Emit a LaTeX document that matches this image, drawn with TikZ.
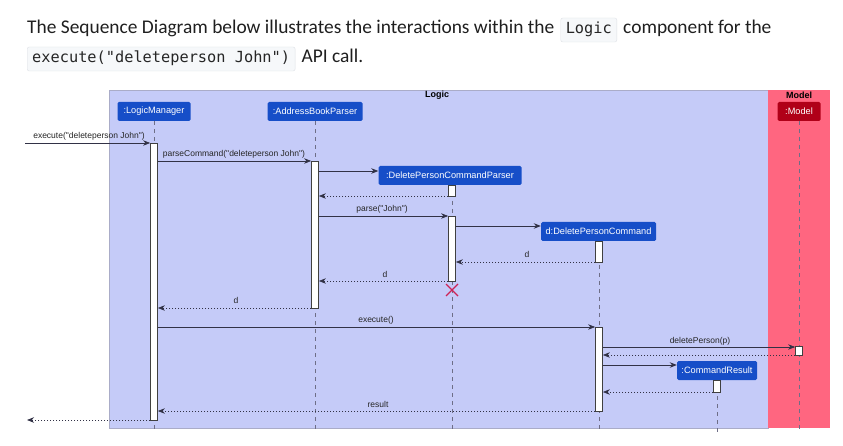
\documentclass[tikz,border=0pt]{standalone}
\usepackage{fontspec}
\setmainfont{Carlito}
\newfontfamily\diag{Liberation Sans}
\setmonofont{DejaVu Sans Mono}
\usetikzlibrary{arrows.meta}
\definecolor{logicbg}{RGB}{197,203,248}
\definecolor{modelbg}{RGB}{255,102,128}
\definecolor{partblue}{RGB}{22,78,200}
\definecolor{partred}{RGB}{176,0,24}
\definecolor{codebg}{RGB}{246,248,250}
\definecolor{codeborder}{RGB}{222,225,230}
\definecolor{lifegray}{RGB}{110,110,135}
\definecolor{msgcol}{RGB}{50,50,70}
\definecolor{xred}{RGB}{205,35,85}
\definecolor{boxborder}{RGB}{170,172,200}
\begin{document}
\begin{tikzpicture}[x=1pt,y=-1pt,
  body/.style={font=\fontsize{19.4}{23}\selectfont, inner sep=0pt, text=black!88},
  code/.style={font=\ttfamily\fontsize{15.3}{18}\selectfont, fill=codebg, draw=codeborder, rounded corners=2pt, inner xsep=5pt, inner ysep=2pt, text height=14pt, text depth=6pt, text=black!85},
  part/.style={fill=partblue, text=white, rounded corners=1.5pt, minimum height=19pt, inner sep=0pt, font=\diag\fontsize{9.2}{11}\selectfont},
  grp/.style={font=\diag\bfseries\fontsize{9}{10}\selectfont, inner sep=0pt},
  life/.style={draw=lifegray, line width=0.6pt, dash pattern=on 4pt off 4pt},
  act/.style={draw=black!75, fill=white, line width=0.7pt, minimum width=7pt, inner sep=0pt},
  msg/.style={draw=msgcol, line width=0.8pt, -{Stealth[length=7pt,width=5.5pt,inset=2.2pt]}},
  ret/.style={msg, dash pattern=on 1.5pt off 1.5pt},
  lbl/.style={font=\diag\fontsize{8.5}{10}\selectfont, inner sep=0pt, anchor=base, text=black!85}
]
\useasboundingbox (0,0) rectangle (843,446);
\fill[white] (0,0) rectangle (843,446);

% ---- text above ----
\node[body, anchor=base west] (t1) at (27,34) {The Sequence Diagram below illustrates the interactions within the};
\node[code, anchor=base west] (c1) at ([xshift=6pt]t1.base east) {Logic};
\node[body, anchor=base west] (t2) at ([xshift=6pt]c1.base east) {component for the};
\node[code, anchor=base west] (c2) at (27,63) {execute("deleteperson John")};
\node[body, anchor=base west] (t3) at ([xshift=6pt]c2.base east) {API call.};

% ---- group boxes ----
\path[fill=logicbg, draw=boxborder, line width=0.7pt] (109,90) rectangle (768,428);
\path[fill=modelbg] (768,90) rectangle (830,428);
\node[grp] (glogic) at (437,95) {Logic};
\node[grp] (gmodel) at (799,95) {Model};

% ---- participants ----
\node[part, minimum width=73pt] (lm) at (154,111.5) {:LogicManager};
\node[part, minimum width=95pt] (abp) at (315,111.5) {:AddressBookParser};
\node[part, fill=partred, minimum width=43pt] (model) at (799,111.5) {:Model};
\node[part, minimum width=143pt] (dpcp) at (450,175.5) {:DeletePersonCommandParser};
\node[part, minimum width=115pt] (dpc) at (598.5,231.5) {d:DeletePersonCommand};
\node[part, minimum width=80pt] (cr) at (717,370.5) {:CommandResult};

% ---- lifelines ----
\coordinate (lmend) at (154,432);
\coordinate (abpend) at (315,432);
\coordinate (dpcpend) at (452,432);
\coordinate (dpcend) at (599,432);
\coordinate (crend) at (717,432);
\coordinate (modelend) at (799,432);
\draw[life] (lm.south) -- (lmend);
\draw[life] (abp.south) -- (abpend);
\draw[life] (452,185) -- (dpcpend);
\draw[life] (599,241) -- (dpcend);
\draw[life] (717,380) -- (crend);
\draw[life] (model.south) -- (modelend);

% ---- activations ----
\node[act, minimum height=277pt] (a1) at (154,281.5) {};
\node[act, minimum height=147pt] (a2) at (315,234.5) {};
\node[act, minimum height=11pt] (a3) at (452,190.5) {};
\node[act, minimum height=65pt] (a4) at (452,248.5) {};
\node[act, minimum height=21pt] (a5) at (599,251.5) {};
\node[act, minimum height=84pt] (a6) at (599,369) {};
\node[act, minimum height=9pt] (a7) at (799,350.5) {};
\node[act, minimum height=12pt] (a8) at (717,386) {};

% ---- destroy ----
\coordinate (xc) at (452,290);
\draw[xred, line width=1.2pt] ([shift={(-6,-6)}]xc) -- ([shift={(6,6)}]xc) ([shift={(-6,6)}]xc) -- ([shift={(6,-6)}]xc);

% ---- messages ----
\coordinate (in0) at (25,143);
\coordinate (out0) at (27,420);
\draw[msg] (in0) -- (a1.west |- in0);
\node[lbl] (l1) at (89,139) {execute("deleteperson John")};

\draw[msg] (a1.east |- 0,161) -- (a2.west |- 0,161);
\node[lbl] (l2) at (234,157) {parseCommand("deleteperson John")};

\draw[msg] (a2.east |- 0,171) -- (dpcp.west |- 0,171);
\draw[ret] (a3.west |- 0,196) -- (a2.east |- 0,196);

\draw[msg] (a2.east |- 0,216) -- (a4.west |- 0,216);
\node[lbl] (l5) at (382,212) {parse("John")};

\draw[msg] (a4.east |- 0,226) -- (dpc.west |- 0,226);
\draw[ret] (a5.west |- 0,262) -- (a4.east |- 0,262);
\node[lbl] (l7) at (527,258) {d};
\draw[ret] (a4.west |- 0,281) -- (a2.east |- 0,281);
\node[lbl] (l8) at (385,277) {d};
\draw[ret] (a2.west |- 0,308) -- (a1.east |- 0,308);
\node[lbl] (l9) at (236,304) {d};

\draw[msg] (a1.east |- 0,327) -- (a6.west |- 0,327);
\node[lbl] (l10) at (376,323) {execute()};

\draw[msg] (a6.east |- 0,347) -- (a7.west |- 0,347);
\node[lbl] (l11) at (700,343) {deletePerson(p)};
\draw[ret] (a7.west |- 0,355) -- (a6.east |- 0,355);

\draw[msg] (a6.east |- 0,365) -- (cr.west |- 0,365);
\draw[ret] (a8.west |- 0,392) -- (a6.east |- 0,392);

\draw[ret] (a6.west |- 0,411) -- (a1.east |- 0,411);
\node[lbl] (l15) at (378,407) {result};

\draw[ret] (a1.west |- out0) -- (out0);
\end{tikzpicture}
\end{document}
